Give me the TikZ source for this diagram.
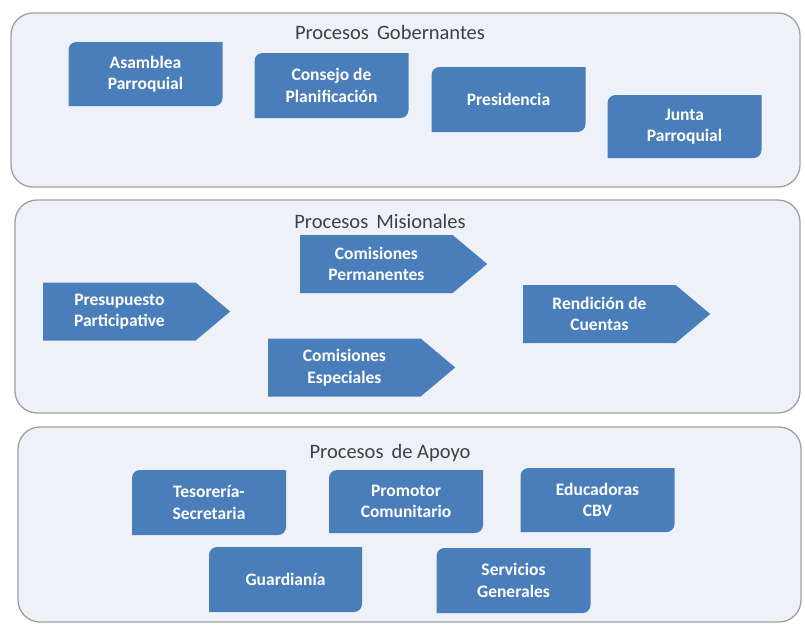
\documentclass[tikz,border=0pt]{standalone}
\usepackage{fontspec}
\setmainfont{Carlito}
\usetikzlibrary{calc,shapes.symbols}
\definecolor{boxblue}{HTML}{4A7EBB}
\definecolor{panelfill}{HTML}{EEF2F8}
\definecolor{panelline}{HTML}{A0A0A0}
\definecolor{titlegray}{HTML}{404040}
\tikzset{
  panel/.style={fill=panelfill,draw=panelline,line width=1.3pt,rounded corners=22pt},
  paneltitle/.style={font=\fontsize{20.5}{24}\selectfont,text=titlegray,inner sep=0pt},
  proctext/.style={text=white,align=center,inner sep=0pt,font=\bfseries\fontsize{17.5}{21.5}\selectfont},
  procbox/.style={proctext,minimum width=154pt,minimum height=64pt,
    path picture={\fill[boxblue] ($(path picture bounding box.north west)+(0,-8pt)$)
      arc[start angle=180,end angle=90,radius=8pt] -- (path picture bounding box.north east)
      -- ($(path picture bounding box.south east)+(0,8pt)$)
      arc[start angle=0,end angle=-90,radius=8pt] -- (path picture bounding box.south west) -- cycle;}},
  procarrow/.style={proctext,signal,signal to=east,signal pointer angle=80,fill=boxblue,
    minimum width=187pt,minimum height=58pt}
}
\begin{document}
\begin{tikzpicture}[x=1pt,y=-1pt]
\useasboundingbox (0,0) rectangle (805,625);
% three process bands
\draw[panel] (11,13) rectangle (800,187);
\draw[panel] (15,200) rectangle (800,413);
\draw[panel] (18,427) rectangle (801,622);
\node[paneltitle] (tgob) at (390,32) {Procesos\, Gobernantes};
\node[paneltitle] (tmis) at (380,221) {Procesos\, Misionales};
\node[paneltitle] (tapo) at (390,453) {Procesos\, de Apoyo};
% governing processes
\node[procbox] (asamblea) at (145.5,74) {Asamblea\\Parroquial};
\node[procbox,minimum height=65pt] (consejo) at (331.5,85.5) {Consejo de\\Planificación};
\node[procbox,minimum height=65pt] (presidencia) at (508.5,99.5) {Presidencia};
\node[procbox,minimum height=63pt] (junta) at (684.5,126.5) {Junta\\Parroquial};
% mission processes
\node[procarrow,anchor=west] (presupuesto) at (43,311.5) {Presupuesto\\Participative};
\node[procarrow,anchor=west] (permanentes) at (300,264) {Comisiones\\Permanentes};
\node[procarrow,anchor=west] (especiales) at (268,367.5) {Comisiones\\Especiales};
\node[procarrow,anchor=west] (rendicion) at (523,314) {Rendición de\\Cuentas};
% support processes
\node[procbox,minimum height=65pt] (tesoreria) at (209,502.5) {Tesorería-\\Secretaria};
\node[procbox,minimum height=63pt] (promotor) at (406,501.5) {Promotor\\Comunitario};
\node[procbox] (educadoras) at (597.5,500) {Educadoras\\CBV};
\node[procbox,minimum width=153pt,minimum height=65pt] (guardiania) at (285.5,579.5) {Guardianía};
\node[procbox,minimum height=65pt] (servicios) at (513.5,580.5) {Servicios\\Generales};
\end{tikzpicture}
\end{document}
